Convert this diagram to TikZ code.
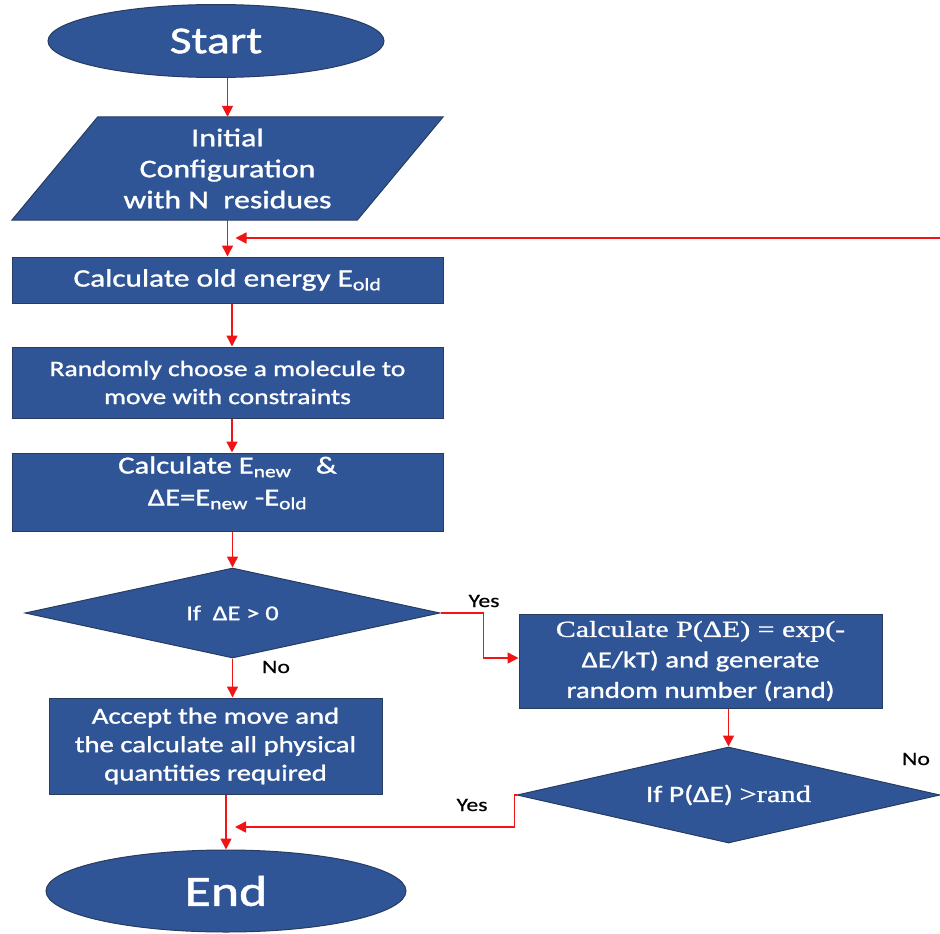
\documentclass[tikz,border=0pt]{standalone}
\usepackage{fontspec}
\setmainfont{Carlito}[FakeStretch=1.25,FakeBold=1.2]
\newfontfamily\sermath{Liberation Serif}[FakeStretch=1.3,FakeBold=1]
\newfontfamily\lblfont{Carlito}[FakeStretch=1.25,FakeBold=0.6]
\usetikzlibrary{shapes.geometric,arrows.meta,backgrounds,calc}
\definecolor{fillb}{RGB}{47,85,151}
\definecolor{bdr}{RGB}{40,60,95}
\definecolor{arrred}{RGB}{240,20,20}
\tikzset{
  box/.style={draw=bdr, fill=fillb, line width=1pt, text=white, align=center, inner sep=0pt},
  arr/.style={draw=arrred, line width=1.5pt, -{Triangle[length=11pt,width=11pt]}},
  lbl/.style={text=black, font=\lblfont\fontsize{19}{22}\selectfont, inner sep=0pt},
}
\begin{document}
\begin{tikzpicture}[x=1pt,y=-1pt]
\useasboundingbox (0,0) rectangle (940,934);

% nodes
\node[box, ellipse, minimum width=336pt, minimum height=73pt, font=\fontsize{38}{40}\selectfont] (start) at (216,41) {Start};

\node[text=white, align=center, minimum width=345pt, minimum height=103pt, inner sep=0pt,
      font=\fontsize{25.5}{31}\selectfont] (init) at (227.5,168.5) {Initial\\Configuration\\with N\ \ residues};
\begin{scope}[on background layer]
  \draw[draw=bdr, fill=fillb, line width=1pt]
    ($(init.north west)+(43,0)$) -- ($(init.north east)+(43,0)$) --
    ($(init.south east)+(-43,0)$) -- ($(init.south west)+(-43,0)$) -- cycle;
\end{scope}

\node[box, minimum width=431pt, minimum height=46pt, font=\fontsize{25}{28}\selectfont] (calc1) at (227.5,280)
  {Calculate old energy E\textsubscript{old}};

\node[box, minimum width=431pt, minimum height=71pt, font=\fontsize{22}{28}\selectfont] (calc2) at (227.5,382.5)
  {Randomly choose a molecule to\\move with constraints};

\node[box, minimum width=431pt, minimum height=78pt, font=\fontsize{24.5}{32}\selectfont] (calc3) at (227.5,492)
  {Calculate E\textsubscript{new}\quad\&\\ΔE=E\textsubscript{new} -E\textsubscript{old}\\[-10pt]};

\node[box, diamond, aspect=4.6, minimum width=415pt, minimum height=90pt, font=\fontsize{21}{24}\selectfont] (dia1) at (232.5,613)
  {If\ \ ΔE > 0};

\node[box, minimum width=333pt, minimum height=96pt, font=\fontsize{23}{28.5}\selectfont] (acc) at (215.5,746)
  {Accept the move and\\the calculate all physical\\quantities required};

\node[box, ellipse, minimum width=360pt, minimum height=82pt, font=\fontsize{43}{46}\selectfont] (end) at (226,891) {End};

\node[box, minimum width=363pt, minimum height=94pt, font=\fontsize{23}{30.5}\selectfont] (prob) at (700.5,661)
  {{\sermath Calculate P(ΔE) = exp(-}\\ΔE/kT) and generate\\random number (rand)};

\node[box, diamond, aspect=4.4, minimum width=423pt, minimum height=96pt, font=\fontsize{23.5}{26}\selectfont] (dia2) at (728.5,795)
  {If P(ΔE) {\sermath >rand}};

% labels
\node[lbl] (yes1) at (484,601) {Yes};
\node[lbl] (no1) at (276,667) {No};
\node[lbl] (no2) at (916,759) {No};
\node[lbl] (yes2) at (472,805) {Yes};

% connectors
\coordinate (fbin) at (940,238);
\coordinate (fbend) at ($(init.south |- fbin)+(8,0)$);
\coordinate (yj) at ($(end.north |- 0,827)+(9,0)$);

\draw[arr] (init.north |- start.south) -- (init.north);
\draw[arr] (init.south) -- (calc1.north);
\draw[arr] (fbin) -- (fbend);
\draw[arr] ([xshift=4.5pt]calc1.south) -- ([xshift=4.5pt]calc2.north);
\draw[arr] ([xshift=4.5pt]calc2.south) -- ([xshift=4.5pt]calc3.north);
\draw[arr] (dia1.north |- calc3.south) -- (dia1.north);
\draw[arr] (dia1.south) -- (dia1.south |- acc.north);
\draw[arr] (end.north |- acc.south) -- (end.north);
\draw[arr] (dia1.east) -- ++(43,0) |- ($(prob.west)+(0,-3)$);
\draw[arr] (dia2.north |- prob.south) -- (dia2.north);
\draw[arr] (dia2.west) -- ++(-2,0) |- (yj);
\end{tikzpicture}
\end{document}
